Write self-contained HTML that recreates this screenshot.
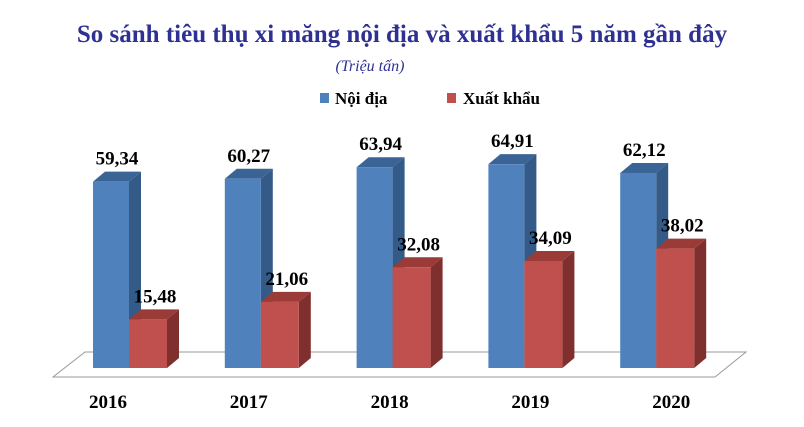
<!DOCTYPE html>
<html><head><meta charset="utf-8"><style>
html,body{margin:0;padding:0;background:#fff;}
svg{display:block;font-family:"Liberation Serif",serif;}
</style></head><body>
<svg id="c" width="804" height="427" viewBox="0 0 804 427">
<text x="402" y="42" text-anchor="middle" font-size="25" font-weight="bold" fill="#2e3192">So sánh tiêu thụ xi măng nội địa và xuất khẩu 5 năm gần đây</text>
<text x="370" y="71" text-anchor="middle" font-size="16" font-style="italic" fill="#2e3192">(Triệu tấn)</text>
<g>
<rect x="320" y="93" width="9" height="10" fill="#4f81bd"/>
<text x="335" y="104" font-size="17" font-weight="bold">Nội địa</text>
<rect x="447" y="93" width="9" height="10" fill="#c0504d"/>
<text x="463" y="104" font-size="17" font-weight="bold">Xuất khẩu</text>
</g>
<polygon points="85,352 746,352 715,377 53,377" fill="#fff" stroke="#999" stroke-width="1"/>
<g id="bars"></g>
</svg>
<script>
const years=["2016","2017","2018","2019","2020"];
const domestic=[59.34,60.27,63.94,64.91,62.12];
const exportVals=[15.48,21.06,32.08,34.09,38.02];
const domesticLabels=["59,34","60,27","63,94","64,91","62,12"];
const exportLabels=["15,48","21,06","32,08","34,09","38,02"];
const NS="http://www.w3.org/2000/svg";
const g=document.getElementById('bars');
const base=368, scale=3.14, x0=93, step=131.8, bw=36, rw=38, dx=12, dy=10;
function y(v){return base-v*scale;}
function el(t,a){const e=document.createElementNS(NS,t);for(const k in a)e.setAttribute(k,a[k]);g.appendChild(e);return e;}
function bar(x,w,v,front,top,side,name){
  const yt=y(v);
  const s=el('polygon',{points:`${x+w},${yt} ${x+w+dx},${yt-dy} ${x+w+dx},${base-dy} ${x+w},${base}`,fill:side});
  
  
  const t=el('polygon',{points:`${x},${yt} ${x+dx},${yt-dy} ${x+w+dx},${yt-dy} ${x+w},${yt}`,fill:top});
  
  
  const f=el('rect',{x:x,y:yt,width:w,height:base-yt,fill:front});
  
  
}
years.forEach((yr,i)=>{
  const bx=x0+i*step;
  bar(bx,bw,domestic[i],'#4f81bd','#3a6496','#345a87','bar-domestic-'+yr);
  bar(bx+bw,rw,exportVals[i],'#c0504d','#9a3b38','#7f2f2d','bar-export-'+yr);
  const l1=el('text',{x:bx+bw/2+6,y:y(domestic[i])-17,'text-anchor':'middle','font-size':19,'font-weight':'bold'});
  l1.textContent=domesticLabels[i];
  
  
  const l2=el('text',{x:bx+bw+rw/2+7,y:y(exportVals[i])-17,'text-anchor':'middle','font-size':19,'font-weight':'bold'});
  l2.textContent=exportLabels[i];
  
  
  const l3=el('text',{x:bx+15+i*9,y:408,'text-anchor':'middle','font-size':19,'font-weight':'bold'});
  l3.textContent=yr;
  
  
});
</script>
</body></html>
